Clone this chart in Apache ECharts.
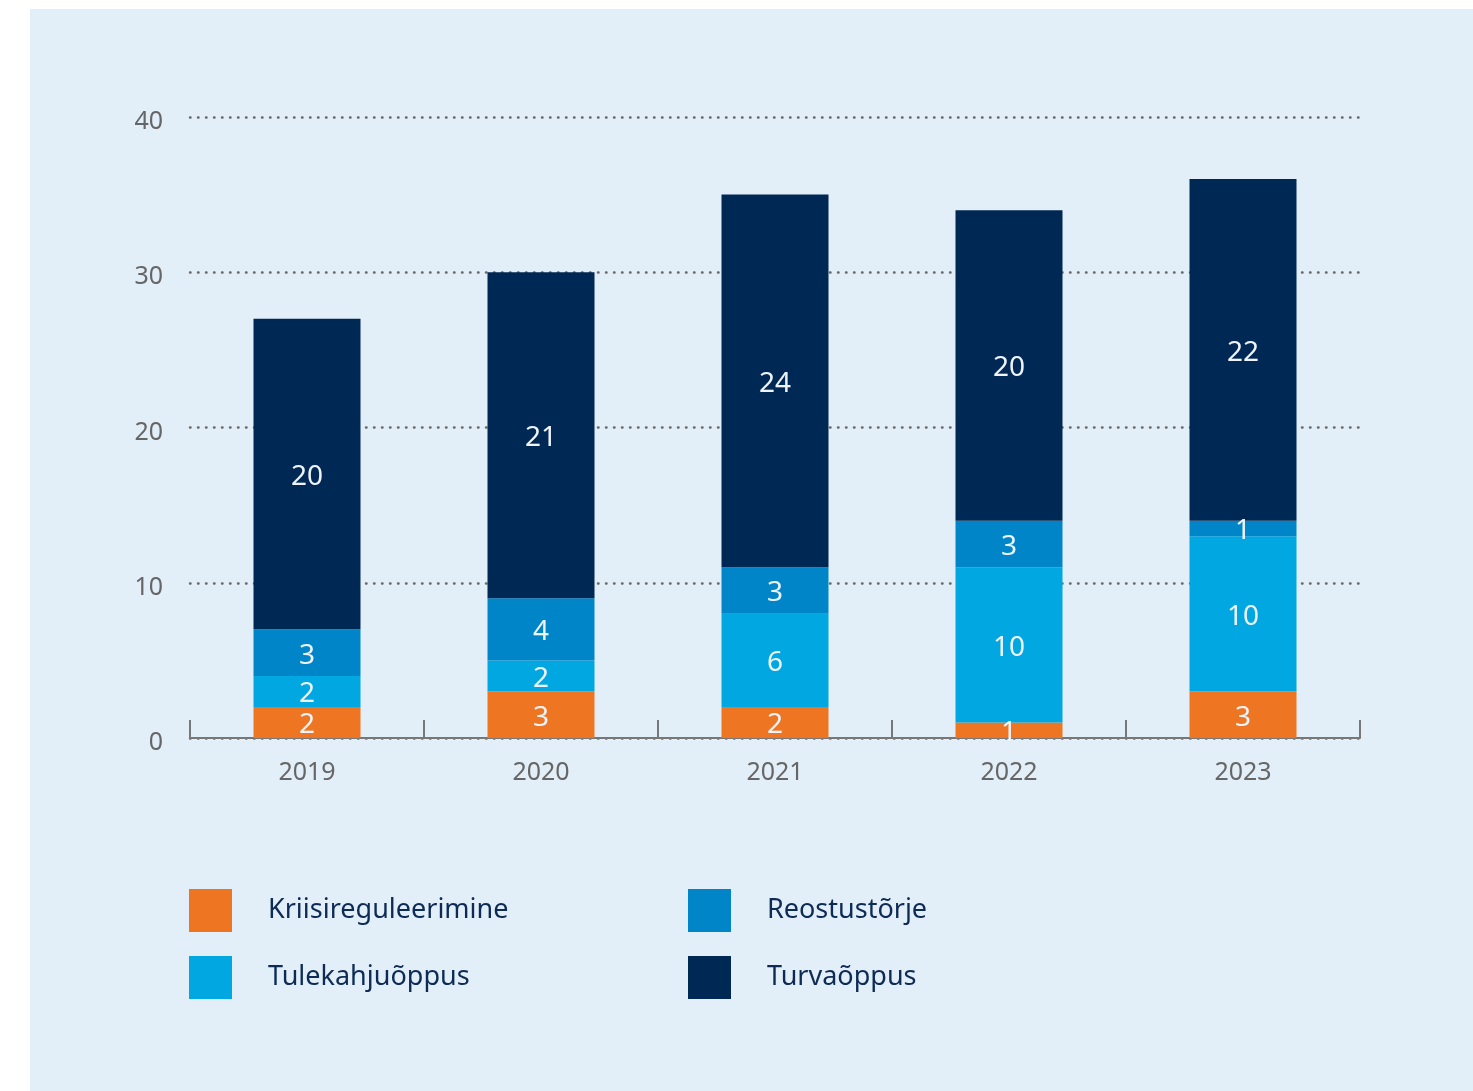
<!DOCTYPE html>
<html>
<head>
<meta charset="utf-8">
<script src="https://cdn.jsdelivr.net/npm/echarts@6/dist/echarts.min.js"></script>
<style>
html,body{margin:0;padding:0;background:#fff;}
#panel{position:absolute;left:30px;top:9px;width:1443px;height:1082px;background:#e3eff8;}
#chart{position:absolute;left:0;top:0;width:1473px;height:1091px;}
</style>
</head>
<body>
<div id="panel"></div>
<div id="chart"></div>
<script>
const years = ['2019', '2020', '2021', '2022', '2023'];
const kriisireguleerimine = [2, 3, 2, 1, 3];
const tulekahjuoppus = [2, 2, 6, 10, 10];
const reostustorje = [3, 4, 3, 3, 1];
const turvaoppus = [20, 21, 24, 20, 22];
const yTicks = [0, 10, 20, 30, 40];

const FONT = '"Noto Sans", "Open Sans", sans-serif';
const colors = ['#ee7623', '#00a7e1', '#0085c8', '#002855'];
const names = ['Kriisireguleerimine', 'Tulekahjuõppus', 'Reostustõrje', 'Turvaõppus'];
const data = [kriisireguleerimine, tulekahjuoppus, reostustorje, turvaoppus];

const chart = echarts.init(document.getElementById('chart'));
const legendText = {color: '#0d2b55', fontSize: 27, fontFamily: FONT, padding: [6, 0, 0, 31]};
chart.setOption({
  backgroundColor: 'transparent',
  animation: false,
  grid: {left: 190, right: 113, top: 117, bottom: 353, containLabel: false},
  legend: [
    {data: names.slice(0, 2), orient: 'vertical', left: 189, top: 889, padding: 0, itemWidth: 43, itemHeight: 43,
     itemGap: 24, icon: 'rect', textStyle: legendText, selectedMode: false},
    {data: names.slice(2), orient: 'vertical', left: 688, top: 889, padding: 0, itemWidth: 43, itemHeight: 43,
     itemGap: 24, icon: 'rect', textStyle: legendText, selectedMode: false}
  ],
  xAxis: {
    type: 'category',
    data: years,
    axisLine: {show: true, lineStyle: {color: '#777', width: 2}},
    axisTick: {show: true, inside: true, length: 18, lineStyle: {color: '#777', width: 2}},
    axisLabel: {color: '#666', fontSize: 25, fontFamily: FONT, margin: 22}
  },
  yAxis: {
    type: 'value',
    min: yTicks[0],
    max: yTicks[yTicks.length - 1],
    interval: 10,
    axisLine: {show: false},
    axisTick: {show: false},
    axisLabel: {color: '#666', fontSize: 25, fontFamily: FONT, margin: 27, verticalAlign: 'top', lineHeight: 10},
    splitLine: {lineStyle: {color: '#6a6a6a', width: 2.5, type: [0.5, 7.5], cap: 'round'}}
  },
  series: names.map((n, i) => ({
    name: n,
    type: 'bar',
    stack: 'total',
    barWidth: 107,
    data: data[i],
    itemStyle: {color: colors[i]},
    label: {show: true, position: 'inside', color: '#eef4fa', fontSize: 28, fontFamily: FONT, offset: [0, 3]}
  }))
});
</script>
</body>
</html>
